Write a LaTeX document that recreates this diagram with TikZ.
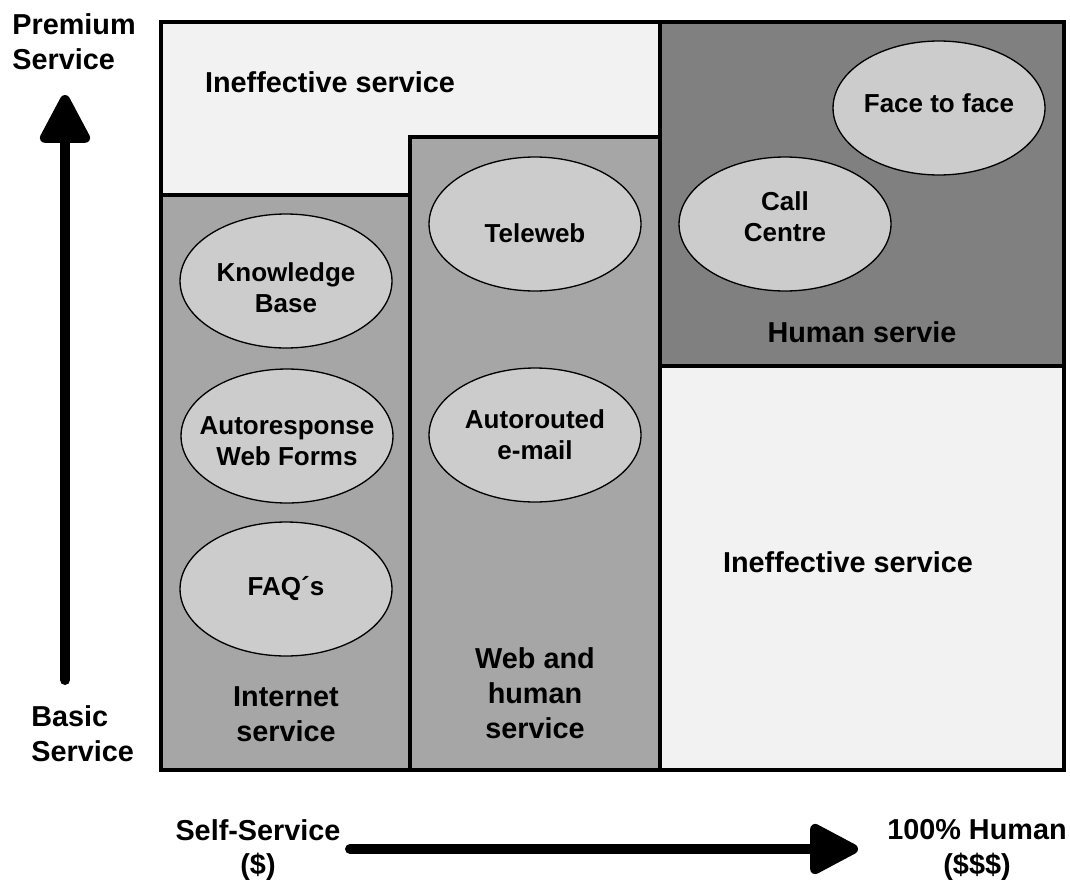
\documentclass[tikz,border=0pt]{standalone}
\usepackage{fontspec}
\setmainfont{Liberation Sans}
\usetikzlibrary{shapes.geometric, arrows.meta}
\definecolor{emptygray}{HTML}{F2F2F2}
\definecolor{webgray}{HTML}{A6A6A6}
\definecolor{humangray}{HTML}{808080}
\definecolor{ovalgray}{HTML}{CCCCCC}
\newcommand{\bigtext}{\fontsize{16.4}{19.8}\selectfont\bfseries}
\newcommand{\ovaltext}{\fontsize{14.8}{17.6}\selectfont\bfseries}
\tikzset{
  region/.style={draw=black, line width=2.6pt},
  oval/.style={ellipse, draw=black, line width=0.75pt, fill=ovalgray,
    minimum width=4.24cm, minimum height=2.68cm, inner sep=0pt},
  ovallabel/.style={align=center, font=\ovaltext, inner sep=0pt},
  caption/.style={align=center, font=\bigtext, inner sep=0pt},
  axisarrow/.style={line width=0.2cm, line cap=round,
    -{Triangle[length=1.08cm, width=1.08cm, round]}},
}
\begin{document}
\begin{tikzpicture}[x=0.02cm, y=-0.02cm]
  \useasboundingbox (0,0) rectangle (1070,882);
  % service regions
  \draw[region, fill=emptygray] (161,22) -- (660,22) -- (660,137) -- (410,137)
    -- (410,195) -- (161,195) -- cycle;
  \draw[region, fill=webgray] (161,195) rectangle (410,770);
  \draw[region, fill=webgray] (410,137) rectangle (660,770);
  \draw[region, fill=humangray] (660,22) rectangle (1064,366);
  \draw[region, fill=emptygray] (660,366) rectangle (1064,770);
  \node[caption] (topempty) at (330,82) {Ineffective service};
  \node[caption] (lowempty) at (848,562) {Ineffective service};
  \node[caption] (human) at (862,332) {Human servie};
  \node[caption] (internet) at (286,714) {Internet\\service};
  \node[caption] (webhuman) at (535,693) {Web and\\human\\service};
  % channels
  \node[oval, label={[ovallabel, yshift=-4pt]center:Knowledge\\Base}] (kb) at (286,281) {};
  \node[oval, label={[ovallabel, yshift=-3pt]center:Autoresponse\\Web Forms}] (forms) at (287,436) {};
  \node[oval, label={[ovallabel]center:FAQ´s}] (faq) at (286,589) {};
  \node[oval, label={[ovallabel, yshift=-5pt]center:Teleweb}] (teleweb) at (535,224) {};
  \node[oval, label={[ovallabel]center:Autorouted\\e-mail}] (email) at (535,435) {};
  \node[oval, label={[ovallabel, yshift=4pt]center:Call\\Centre}] (call) at (785,224) {};
  \node[oval, label={[ovallabel, yshift=3pt]center:Face to face}] (face) at (939,108) {};
  % axes
  \node[caption, align=left, anchor=west] (premium) at (12,42) {Premium\\Service};
  \node[caption, align=left, anchor=west] (basic) at (31,734) {Basic\\Service};
  \node[caption] (self) at (258,850) {Self-Service\\(\$)};
  \node[caption] (full) at (977,850) {100\% Human\\(\$\$\$)};
  \coordinate (vlow) at (65,680);
  \coordinate (vhigh) at (65,95);
  \coordinate (hlow) at (350,849);
  \coordinate (hhigh) at (858,849);
  \draw[axisarrow] (vlow) -- (vhigh);
  \draw[axisarrow] (hlow) -- (hhigh);
\end{tikzpicture}
\end{document}
